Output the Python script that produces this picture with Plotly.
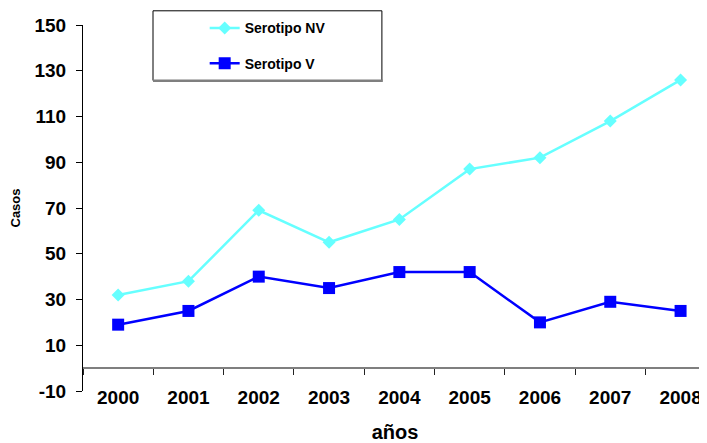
import plotly.graph_objects as go

# data
years = ["2000", "2001", "2002", "2003", "2004", "2005", "2006", "2007", "2008"]
serotipo_nv = [32, 38, 69, 55, 65, 87, 92, 108, 126]
serotipo_v = [19, 25, 40, 35, 42, 42, 20, 29, 25]

y_ticks = list(range(-10, 151, 20))

FONT = "Liberation Sans, Arial, sans-serif"
x_range = [-0.5, 8.376]
y_range = [-10, 150]

fig = go.Figure()

fig.add_trace(go.Scatter(
    x=years, y=serotipo_nv, name="Serotipo NV", legendgroup="nv",
    mode="lines+markers",
    line=dict(color="#66FFFF", width=2.5),
    marker=dict(symbol="diamond", size=10, color="#66FFFF"),
))
fig.add_trace(go.Scatter(
    x=years, y=serotipo_v, name="Serotipo V", legendgroup="v",
    mode="lines+markers",
    line=dict(color="#0000FF", width=2.5),
    marker=dict(symbol="square", size=12, color="#0000FF"),
))

# the horizontal axis line sits at y=0 with ticks between categories
zero_pos = (0 - y_range[0]) / (y_range[1] - y_range[0])

# page body adds an 8px margin, so the figure is 8px smaller than the window
fig.update_layout(
    width=699, height=435,
    margin=dict(l=75, r=0, t=16.5, b=52.3, autoexpand=False),
    paper_bgcolor="white", plot_bgcolor="white",
    font=dict(family=FONT, color="black"),
    xaxis=dict(
        type="category", range=x_range,
        showline=False, ticks="", showgrid=False, zeroline=False,
        anchor="free", position=0.019, automargin=False,
        tickfont=dict(size=19, weight="bold"),
        title=dict(text="años", font=dict(size=20, weight="bold"), standoff=18),
    ),
    xaxis2=dict(
        overlaying="x", anchor="free", position=zero_pos,
        range=x_range, showgrid=False, zeroline=False, automargin=False,
        showline=True, linecolor="#7f7f7f", linewidth=2,
        ticks="outside", ticklen=6, tickcolor="#222", tickwidth=1,
        tickvals=[i - 0.5 for i in range(len(years))],
        showticklabels=False,
    ),
    yaxis=dict(
        range=y_range, tickvals=y_ticks, ticktext=[str(v) for v in y_ticks],
        showline=True, linecolor="black", linewidth=1,
        ticks="outside", ticklen=6, tickcolor="black",
        showgrid=False, zeroline=False, automargin=False,
        tickfont=dict(size=19, weight="bold"),
        ticklabelstandoff=6,
        title=dict(text="Casos", font=dict(size=13, weight="bold"), standoff=12),
    ),
    showlegend=True,
    legend=dict(
        x=0.195, y=1.0346, xanchor="left", yanchor="top",
        bgcolor="rgba(0,0,0,0)", borderwidth=0,
        font=dict(size=14, weight="bold"),
        traceorder="grouped", tracegroupgap=14,
    ),
    shapes=[
        dict(type="rect", xref="paper", yref="paper",
             x0=0.1122, x1=0.479, y0=0.8483, y1=1.0388,
             line=dict(color="black", width=1)),
        dict(type="line", xref="paper", yref="paper",
             x0=0.1122, x1=0.4805, y0=0.8475, y1=0.8475,
             line=dict(color="#7f7f7f", width=2.5)),
    ],
)

# dummy trace to activate xaxis2
fig.add_trace(go.Scatter(x=[None], y=[None], xaxis="x2", showlegend=False, hoverinfo="skip"))

fig.write_html("out.html")
